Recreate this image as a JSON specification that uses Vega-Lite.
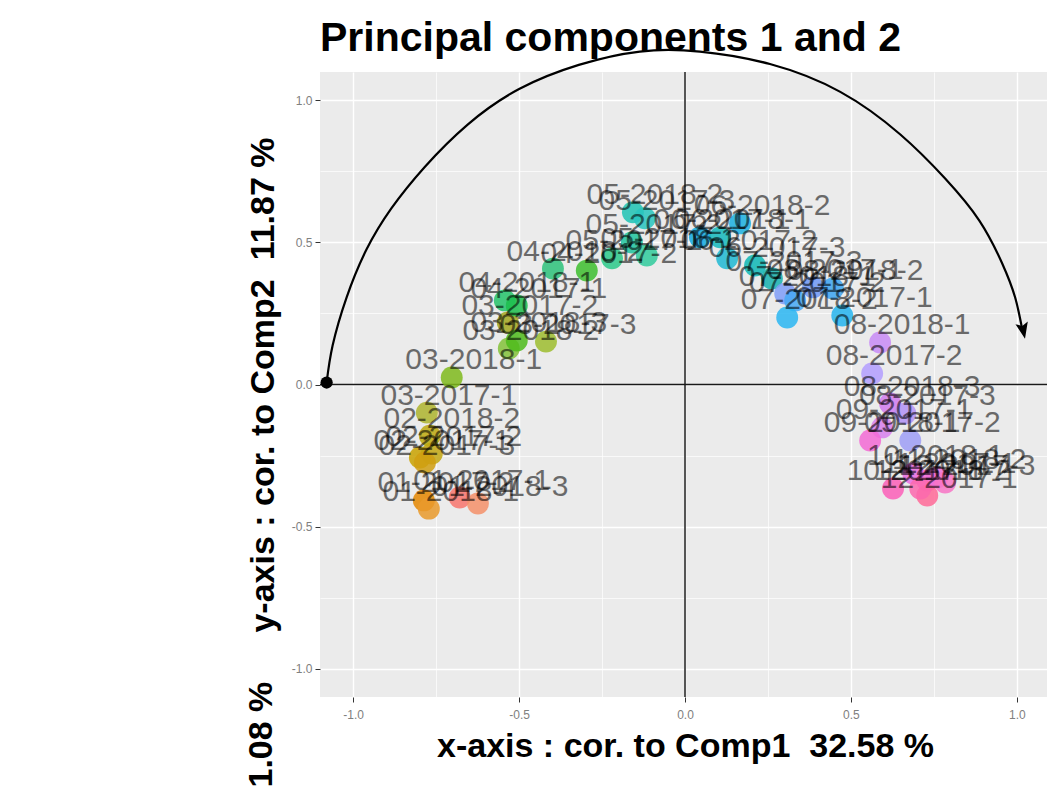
{
  "$schema": "https://vega.github.io/schema/vega-lite/v6.json",
  "width": 730,
  "height": 625,
  "autosize": {"type": "none"},
  "padding": {"left": 320, "top": 72, "right": 0, "bottom": 89},
  "background": "white",
  "title": {"text": "Principal components 1 and 2", "anchor": "start", "frame": "group", "font": "Liberation Sans", "fontSize": 41, "fontWeight": "bold", "color": "black", "baseline": "alphabetic", "offset": -46},
  "config": {"view": {"fill": "#EBEBEB", "stroke": null}},
  "datasets": {
    "pts": [
      {"label": "01-2017-1", "x": -0.679, "y": -0.398},
      {"label": "01-2017-2", "x": -0.787, "y": -0.408},
      {"label": "01-2018-1", "x": -0.772, "y": -0.437},
      {"label": "01-2018-3", "x": -0.624, "y": -0.419},
      {"label": "02-2017-1", "x": -0.799, "y": -0.257},
      {"label": "02-2017-2", "x": -0.763, "y": -0.243},
      {"label": "02-2017-3", "x": -0.784, "y": -0.275},
      {"label": "02-2018-2", "x": -0.769, "y": -0.180},
      {"label": "03-2017-1", "x": -0.778, "y": -0.099},
      {"label": "03-2018-1", "x": -0.703, "y": 0.025},
      {"label": "03-2017-2", "x": -0.534, "y": 0.218},
      {"label": "03-2017-3", "x": -0.419, "y": 0.151},
      {"label": "03-2018-2", "x": -0.531, "y": 0.127},
      {"label": "03-2018-3", "x": -0.507, "y": 0.155},
      {"label": "04-2018-1", "x": -0.543, "y": 0.296},
      {"label": "04-2017-1", "x": -0.507, "y": 0.278},
      {"label": "04-2018-2", "x": -0.398, "y": 0.408},
      {"label": "04-2017-2", "x": -0.296, "y": 0.401},
      {"label": "05-2017-1", "x": -0.220, "y": 0.444},
      {"label": "05-2017-2", "x": -0.160, "y": 0.500},
      {"label": "05-2018-1", "x": -0.115, "y": 0.454},
      {"label": "05-2018-2", "x": -0.157, "y": 0.606},
      {"label": "05-2017-3", "x": -0.121, "y": 0.585},
      {"label": "06-2017-1", "x": 0.045, "y": 0.518},
      {"label": "06-2018-1", "x": 0.106, "y": 0.518},
      {"label": "06-2018-2", "x": 0.166, "y": 0.567},
      {"label": "06-2017-2", "x": 0.127, "y": 0.444},
      {"label": "06-2017-3", "x": 0.211, "y": 0.419},
      {"label": "07-2017-3", "x": 0.262, "y": 0.373},
      {"label": "07-2018-1", "x": 0.302, "y": 0.320},
      {"label": "07-2017-2", "x": 0.332, "y": 0.296},
      {"label": "07-2018-2", "x": 0.308, "y": 0.236},
      {"label": "08-2017-1", "x": 0.386, "y": 0.342},
      {"label": "08-2018-2", "x": 0.446, "y": 0.338},
      {"label": "07-2017-1", "x": 0.474, "y": 0.243},
      {"label": "08-2018-1", "x": 0.588, "y": 0.148},
      {"label": "08-2017-2", "x": 0.564, "y": 0.039},
      {"label": "08-2018-3", "x": 0.618, "y": -0.067},
      {"label": "08-2017-3", "x": 0.664, "y": -0.102},
      {"label": "09-2017-1", "x": 0.594, "y": -0.151},
      {"label": "09-2018-1", "x": 0.558, "y": -0.197},
      {"label": "09-2017-2", "x": 0.679, "y": -0.197},
      {"label": "10-2017-1", "x": 0.627, "y": -0.366},
      {"label": "10-2018-1", "x": 0.688, "y": -0.313},
      {"label": "11-2017-1", "x": 0.730, "y": -0.338},
      {"label": "11-2018-2", "x": 0.760, "y": -0.327},
      {"label": "12-2017-3", "x": 0.784, "y": -0.345},
      {"label": "12-2017-1", "x": 0.730, "y": -0.391},
      {"label": "12-2018-2", "x": 0.709, "y": -0.366}
    ],
    "arc": [
      {"x": -1.080, "y": 0.007},
      {"x": -1.062, "y": 0.137},
      {"x": -1.020, "y": 0.306},
      {"x": -0.960, "y": 0.475},
      {"x": -0.885, "y": 0.620},
      {"x": -0.785, "y": 0.765},
      {"x": -0.655, "y": 0.915},
      {"x": -0.500, "y": 1.040},
      {"x": -0.320, "y": 1.125},
      {"x": -0.136, "y": 1.172},
      {"x": 0.045, "y": 1.172},
      {"x": 0.256, "y": 1.128},
      {"x": 0.468, "y": 1.030},
      {"x": 0.649, "y": 0.880},
      {"x": 0.784, "y": 0.725},
      {"x": 0.887, "y": 0.577},
      {"x": 0.956, "y": 0.426},
      {"x": 0.995, "y": 0.306},
      {"x": 1.017, "y": 0.190}
    ]
  },
  "layer": [
    {
      "data": {"values": [{"x": 0}]},
      "mark": {"type": "rule", "color": "#555555", "strokeWidth": 2},
      "encoding": {
        "x": {"field": "x", "type": "quantitative", "scale": {"domain": [-1.1, 1.1], "nice": false, "zero": false}}
      }
    },
    {
      "data": {"values": [{"y": 0}]},
      "mark": {"type": "rule", "color": "#1a1a1a", "strokeWidth": 1.6},
      "encoding": {
        "y": {"field": "y", "type": "quantitative", "scale": {"domain": [-1.1, 1.1], "nice": false, "zero": false}}
      }
    },
    {
      "data": {"name": "pts"},
      "mark": {"type": "circle", "size": 480, "opacity": 0.85, "stroke": null},
      "encoding": {
        "x": {
          "field": "x", "type": "quantitative",
          "scale": {"domain": [-1.1, 1.1], "nice": false, "zero": false},
          "axis": {
            "values": [-1, -0.75, -0.5, -0.25, 0, 0.25, 0.5, 0.75, 1],
            "labelExpr": "abs(datum.value*2 - round(datum.value*2)) > 0.01 ? '' : replace(format(datum.value, '.1f'), '\u2212', '-')",
            "grid": true, "gridColor": "white",
            "gridWidth": {"condition": {"test": "abs(datum.value*2 - round(datum.value*2)) > 0.01", "value": 0.7}, "value": 1.4},
            "tickOpacity": {"condition": {"test": "abs(datum.value*2 - round(datum.value*2)) > 0.01", "value": 0}, "value": 1},
            "domain": false, "tickColor": "#333333", "tickSize": 5, "tickWidth": 1,
            "labelColor": "#808080", "labelFontSize": 12, "labelFont": "Liberation Sans", "labelPadding": 7,
            "title": "x-axis : cor. to Comp1\u00a0 32.58 %",
            "titleFont": "Liberation Sans", "titleFontSize": 34, "titleFontWeight": "bold", "titleColor": "black", "titlePadding": 9
          }
        },
        "y": {
          "field": "y", "type": "quantitative",
          "scale": {"domain": [-1.1, 1.1], "nice": false, "zero": false},
          "axis": {
            "values": [-1, -0.75, -0.5, -0.25, 0, 0.25, 0.5, 0.75, 1],
            "labelExpr": "abs(datum.value*2 - round(datum.value*2)) > 0.01 ? '' : replace(format(datum.value, '.1f'), '\u2212', '-')",
            "grid": true, "gridColor": "white",
            "gridWidth": {"condition": {"test": "abs(datum.value*2 - round(datum.value*2)) > 0.01", "value": 0.7}, "value": 1.4},
            "tickOpacity": {"condition": {"test": "abs(datum.value*2 - round(datum.value*2)) > 0.01", "value": 0}, "value": 1},
            "domain": false, "tickColor": "#333333", "tickSize": 5, "tickWidth": 1,
            "labelColor": "#808080", "labelFontSize": 12, "labelFont": "Liberation Sans", "labelPadding": 3,
            "title": "y-axis : cor. to Comp2\u00a0 11.87 %",
            "titleFont": "Liberation Sans", "titleFontSize": 34, "titleFontWeight": "bold", "titleColor": "black", "titlePadding": 11
          }
        },
        "color": {
          "field": "label", "type": "nominal", "legend": null,
          "scale": {
            "domain": ["01-2017-1","01-2017-2","01-2018-1","01-2018-3","02-2017-1","02-2017-2","02-2017-3","02-2018-2","03-2017-1","03-2018-1","03-2017-2","03-2017-3","03-2018-2","03-2018-3","04-2018-1","04-2017-1","04-2018-2","04-2017-2","05-2017-1","05-2017-2","05-2018-1","05-2018-2","05-2017-3","06-2017-1","06-2018-1","06-2018-2","06-2017-2","06-2017-3","07-2017-3","07-2018-1","07-2017-2","07-2018-2","08-2017-1","08-2018-2","07-2017-1","08-2018-1","08-2017-2","08-2018-3","08-2017-3","09-2017-1","09-2018-1","09-2017-2","10-2017-1","10-2018-1","11-2017-1","11-2018-2","12-2017-3","12-2017-1","12-2018-2"],
            "range": ["#F8766D","#E58700","#E99A2C","#F4906A","#C9A200","#C2A712","#D09F10","#BDA90E","#AEB42E","#7FBA1C","#A3A81E","#9EBD2F","#84C23A","#4DBB1B","#25C36A","#1CBE4C","#2DC27A","#3DBE2E","#2BC98A","#1EC49E","#30CB9C","#1EC3B4","#28C6BE","#12A8E0","#14B8BC","#1BB0E2","#1EB9D3","#0EB7B5","#17B2AE","#7F9DF8","#47A9F6","#2AB6F2","#6F98F6","#3CA4F2","#25B4EE","#C88BF6","#B39EFF","#D07BF0","#B292F6","#D880EE","#F36AD5","#9D9DF6","#FC5FB8","#EA6BE2","#F469D6","#EF6FD8","#F874C6","#FF6A98","#FB69AE"]
          }
        }
      }
    },
    {
      "data": {"name": "pts"},
      "mark": {"type": "text", "dx": 22, "dy": -17, "font": "Liberation Sans", "fontSize": 30, "fill": "black", "opacity": 0.55},
      "encoding": {
        "x": {"field": "x", "type": "quantitative", "scale": {"domain": [-1.1, 1.1], "nice": false, "zero": false}},
        "y": {"field": "y", "type": "quantitative", "scale": {"domain": [-1.1, 1.1], "nice": false, "zero": false}},
        "text": {"field": "label", "type": "nominal"}
      }
    },
    {
      "data": {"name": "arc"},
      "mark": {"type": "line", "interpolate": "natural", "color": "black", "strokeWidth": 2.2},
      "encoding": {
        "x": {"field": "x", "type": "quantitative", "scale": {"domain": [-1.1, 1.1], "nice": false, "zero": false}},
        "y": {"field": "y", "type": "quantitative", "scale": {"domain": [-1.1, 1.1], "nice": false, "zero": false}}
      }
    },
    {
      "data": {"values": [{"x": -1.080, "y": 0.007}]},
      "mark": {"type": "circle", "color": "black", "size": 150, "opacity": 1},
      "encoding": {
        "x": {"field": "x", "type": "quantitative", "scale": {"domain": [-1.1, 1.1], "nice": false, "zero": false}},
        "y": {"field": "y", "type": "quantitative", "scale": {"domain": [-1.1, 1.1], "nice": false, "zero": false}}
      }
    },
    {
      "data": {"values": [{"x": 1.019, "y": 0.192}]},
      "mark": {"type": "point", "shape": "M0,1 L-0.7,-0.8 L0,-0.45 L0.7,-0.8 Z", "filled": true, "color": "black", "size": 324, "angle": 348, "opacity": 1},
      "encoding": {
        "x": {"field": "x", "type": "quantitative", "scale": {"domain": [-1.1, 1.1], "nice": false, "zero": false}},
        "y": {"field": "y", "type": "quantitative", "scale": {"domain": [-1.1, 1.1], "nice": false, "zero": false}}
      }
    },
    {
      "data": {"values": [{"x": -1.245, "y": -1.046, "t": "y-axis : cor. to Comp3\u00a0 11.08 %"}]},
      "mark": {"type": "text", "angle": 270, "align": "right", "baseline": "alphabetic", "font": "Liberation Sans", "fontSize": 34, "fontWeight": "bold", "fill": "black"},
      "encoding": {
        "x": {"field": "x", "type": "quantitative", "scale": {"domain": [-1.1, 1.1], "nice": false, "zero": false}},
        "y": {"field": "y", "type": "quantitative", "scale": {"domain": [-1.1, 1.1], "nice": false, "zero": false}},
        "text": {"field": "t", "type": "nominal"}
      }
    }
  ]
}
